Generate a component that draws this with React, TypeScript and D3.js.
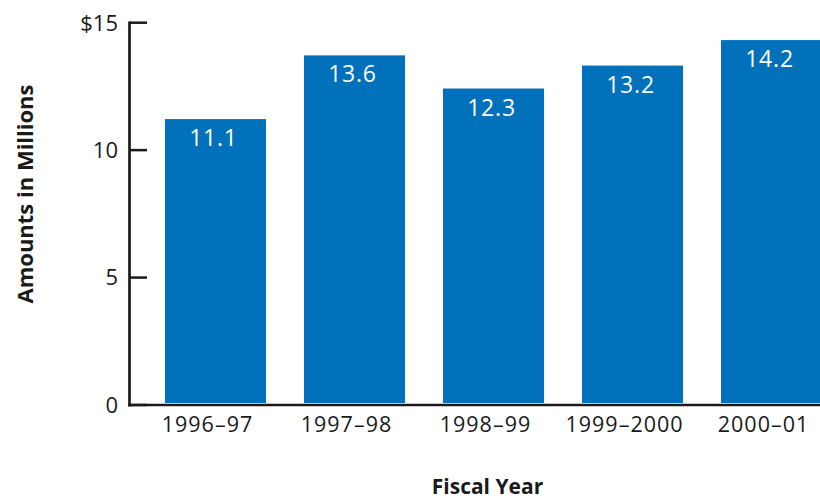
import React from "react";
import * as d3 from "d3";

const categories: string[] = ["1996–97", "1997–98", "1998–99", "1999–2000", "2000–01"];
const amounts: number[] = [11.1, 13.6, 12.3, 13.2, 14.2];
const tickValues: number[] = [0, 5, 10, 15];
const tickLabels: string[] = ["0", "5", "10", "$15"];
const yTitle = "Amounts in Millions";
const xTitle = "Fiscal Year";

const W = 820;
const H = 501;
const FONT = "'Open Sans', 'Noto Sans', sans-serif";
const BLUE = "#0071BA";
const INK = "#1a1a1a";

export default function App() {
  const axisX = 129.5;
  const x = d3.scaleBand<string>().domain(categories).range([127, 860]).padding(0.273);
  const y = d3.scaleLinear().domain([0, 15]).range([405, 22.7]);
  const labelShift = -8;
  const baseY = y(0) - 2;

  return (
    <div style={{ position: "absolute", left: 0, top: 0 }}>
      <svg width={W} height={H} style={{ display: "block", background: "#fff" }}>
        {categories.map((c, i) => (
          <g key={c}>
            <rect
              x={x(c)!}
              y={y(amounts[i]) - 3}
              width={x.bandwidth()}
              height={baseY - (y(amounts[i]) - 3)}
              fill={BLUE}
            />
            <text
              x={x(c)! + x.bandwidth() / 2 - 2}
              y={y(amounts[i]) + 24}
              textAnchor="middle"
              fill="#fff"
              fontFamily={FONT}
              fontSize={23}
              letterSpacing={0.8}
            >
              {amounts[i].toFixed(1)}
            </text>
            <text
              x={x(c)! + x.bandwidth() / 2 + labelShift}
              y={432}
              textAnchor="middle"
              fill={INK}
              fontFamily={FONT}
              fontSize={21.5}
              letterSpacing={1}
            >
              {c}
            </text>
          </g>
        ))}
        <line x1={axisX} x2={axisX} y1={y(15) - 1.3} y2={y(0) + 1.5} stroke={INK} strokeWidth={2.7} />
        {tickValues.map((t, i) => (
          <g key={t}>
            <line x1={axisX} x2={147} y1={y(t)} y2={y(t)} stroke={INK} strokeWidth={2.5} />
            <text
              x={118}
              y={y(t)}
              dy="0.36em"
              textAnchor="end"
              fill={INK}
              fontFamily={FONT}
              fontSize={22}
            >
              {tickLabels[i]}
            </text>
          </g>
        ))}
        <line x1={axisX - 1.3} x2={W} y1={y(0)} y2={y(0)} stroke={INK} strokeWidth={2.7} />
        <text
          transform={`translate(33,194) rotate(-90)`}
          textAnchor="middle"
          fill={INK}
          fontFamily={FONT}
          fontWeight="bold"
          fontSize={22}
        >
          {yTitle}
        </text>
        <text
          x={487.5}
          y={494}
          textAnchor="middle"
          fill={INK}
          fontFamily={FONT}
          fontWeight="bold"
          fontSize={21}
        >
          {xTitle}
        </text>
      </svg>
    </div>
  );
}
